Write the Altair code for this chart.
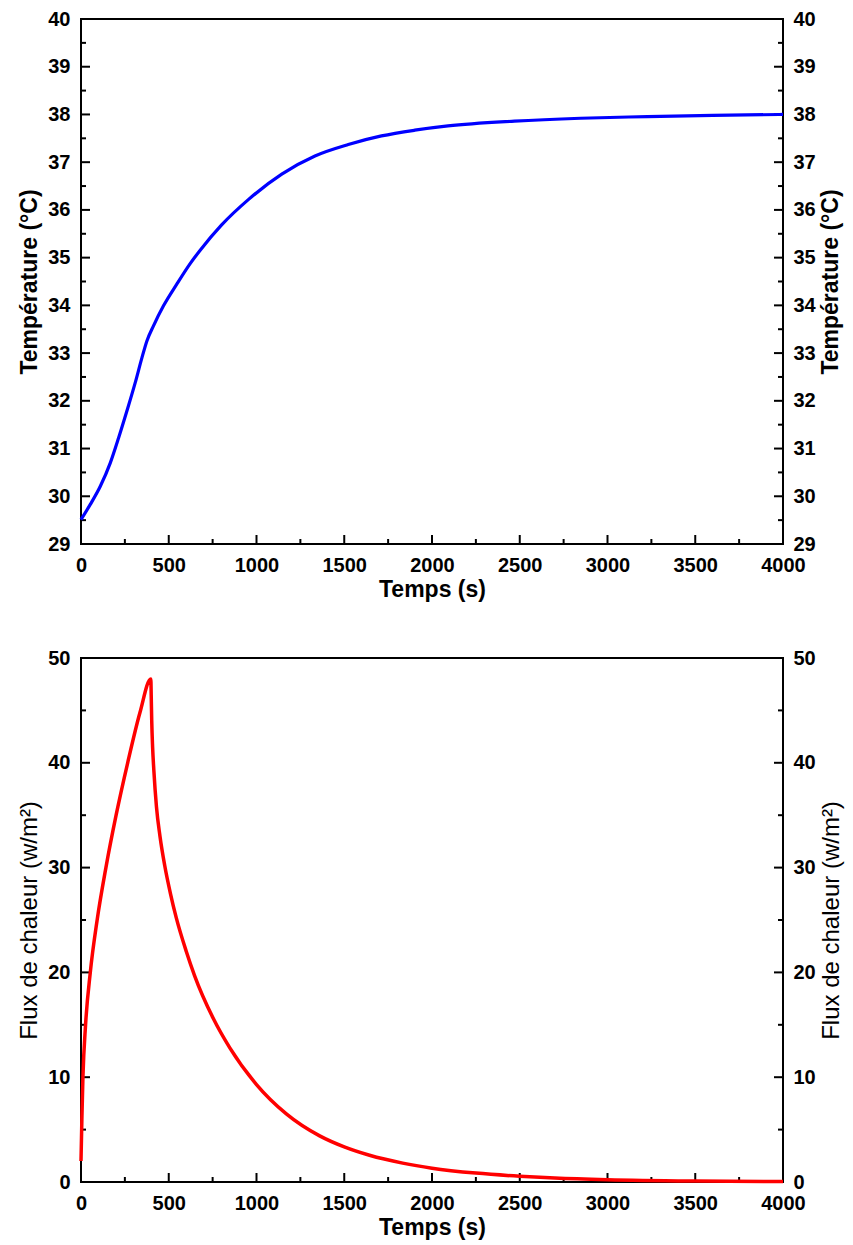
import altair as alt
import pandas as pd

# ---- data ----
time_T = [0, 53, 110, 167, 214, 261, 309, 347, 375, 413, 470, 545, 621, 678, 800,
          955, 1144, 1333, 1523, 1712, 1902, 2091, 2470, 2847, 3227, 3600, 4000]
temp_T = [29.51, 29.83, 30.21, 30.70, 31.22, 31.78, 32.38, 32.90, 33.25, 33.57, 33.99,
          34.44, 34.87, 35.15, 35.68, 36.22, 36.75, 37.13, 37.37, 37.55, 37.67, 37.76,
          37.86, 37.92, 37.955, 37.98, 38.0]

time_q = [0, 5, 11, 26, 53, 92, 142, 200, 266, 336, 398, 400, 403, 408, 415, 430, 450,
          477, 510, 543, 600, 647, 754, 848, 1000, 1170, 1360, 1500, 1644, 1833, 2000,
          2250, 2500, 2700, 3000, 3500, 4000]
flux_q = [2, 6, 10, 15, 20, 25, 30, 35, 40, 44.8, 48, 46.5, 44, 41.5, 39.3, 35.8, 33,
          30.2, 27.5, 25.2, 22, 19.7, 15.6, 12.8, 9.3, 6.5, 4.4, 3.35, 2.55, 1.8, 1.32,
          0.85, 0.55, 0.38, 0.22, 0.09, 0.04]

x_major = [0, 500, 1000, 1500, 2000, 2500, 3000, 3500, 4000]
x_minor = [250, 750, 1250, 1750, 2250, 2750, 3250, 3750]
T_major = [29, 30, 31, 32, 33, 34, 35, 36, 37, 38, 39, 40]
T_minor = [29.5, 30.5, 31.5, 32.5, 33.5, 34.5, 35.5, 36.5, 37.5, 38.5, 39.5]
q_major = [0, 10, 20, 30, 40, 50]
q_minor = [5, 15, 25, 35, 45]

FONT = "Liberation Sans"
W = 702
MAJ, MIN = 9, 5


def panel(times, values, color, width_line, ydomain, ytitle, tweight, tsize, ymaj, ymin,
          height):
    df = pd.DataFrame({"t": times, "v": values})
    xs = alt.Scale(domain=[0, 4000], nice=False, zero=False)
    ys = alt.Scale(domain=ydomain, nice=False, zero=False)
    ax_common = dict(ticks=False, domain=False, grid=False,
                     labelFont=FONT, labelFontSize=20, labelFontWeight="bold",
                     labelColor="black", titleFont=FONT, titleColor="black")
    xaxis = alt.Axis(values=x_major, title="Temps (s)", labelPadding=11,
                     titleFontWeight="bold", titleFontSize=23, titlePadding=3,
                     format="d", labelFlush=False, **ax_common)
    yleft = alt.Axis(orient="left", values=ymaj, title=ytitle, labelPadding=11,
                     titleFontWeight=tweight, titleFontSize=tsize, titlePadding=6,
                     format="d", **ax_common)
    yright = alt.Axis(orient="right", values=ymaj, title=ytitle, labelPadding=10,
                      titleFontWeight=tweight, titleFontSize=tsize, titlePadding=4,
                      titleAngle=270, titleBaseline="top", format="d", **ax_common)

    base = alt.Chart(df)
    left = base.mark_line(opacity=0).encode(
        x=alt.X("t:Q", scale=xs, axis=xaxis),
        y=alt.Y("v:Q", scale=ys, axis=yleft))
    line = base.mark_line(color=color, strokeWidth=width_line,
                          interpolate="monotone").encode(
        x=alt.X("t:Q", scale=xs, axis=None),
        y=alt.Y("v:Q", scale=ys, axis=yright))

    def xt(vals, ln):
        return alt.Chart(pd.DataFrame({"t": vals})).mark_rule(
            color="black", strokeWidth=2).encode(
            x=alt.X("t:Q", scale=xs, axis=None),
            y=alt.value(height), y2=alt.value(height - ln))

    def yt(vals, ln, right):
        x0 = W if right else 0
        x1 = W - ln if right else ln
        return alt.Chart(pd.DataFrame({"v": vals})).mark_rule(
            color="black", strokeWidth=2).encode(
            y=alt.Y("v:Q", scale=ys, axis=None),
            x=alt.value(x0), x2=alt.value(x1))

    layers = [left, xt(x_major, MAJ), xt(x_minor, MIN),
              yt(ymaj, MAJ, False), yt(ymin, MIN, False),
              yt(ymaj, MAJ, True), yt(ymin, MIN, True), line]
    return alt.layer(*layers).resolve_axis(x="independent", y="independent").properties(
        width=W, height=height)


top = panel(time_T, temp_T, "#0000ff", 3.2, [29, 40], "Température (°C)", "bold", 23,
            T_major, T_minor, 525)
bottom = panel(time_q, flux_q, "#ff0000", 3.5, [0, 50], "Flux de chaleur (w/m²)",
               "normal", 24, q_major, q_minor, 524)

chart = alt.vconcat(top, bottom, spacing=45).configure(
    padding={"left": 8, "top": 0, "right": 0, "bottom": 0},
    background="white").configure_view(stroke="black", strokeWidth=2)

chart.save("out.html", embed_options={"renderer": "svg", "actions": False})
